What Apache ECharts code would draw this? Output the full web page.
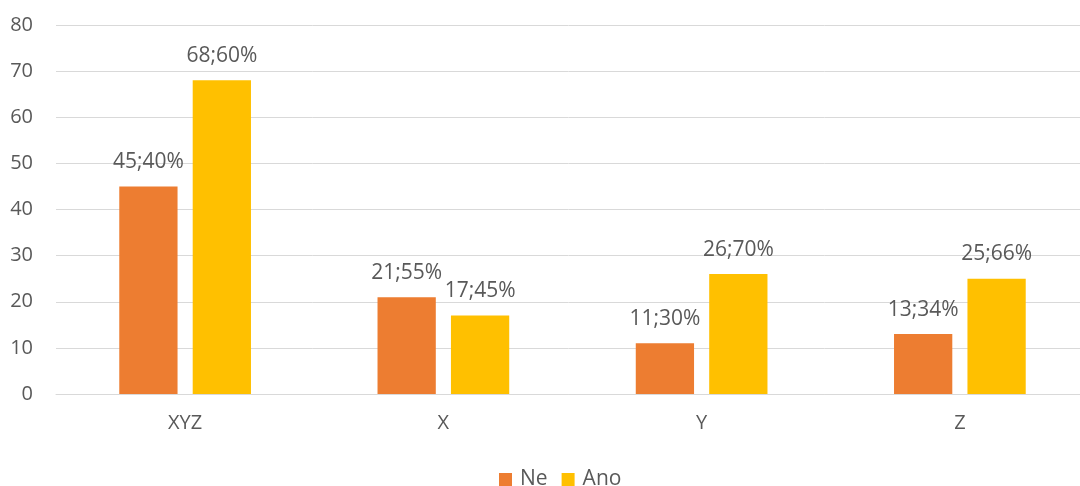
<!DOCTYPE html>
<html>
<head>
<meta charset="utf-8">
<script src="https://cdn.jsdelivr.net/npm/echarts@6/dist/echarts.min.js"></script>
<style>
  html, body { margin: 0; padding: 0; background: #fff; }
  #chart { width: 1080px; height: 486px; }
</style>
</head>
<body>
<div id="chart"></div>
<script>
const categories = ['XYZ', 'X', 'Y', 'Z'];
const neValues = [45, 21, 11, 13];
const anoValues = [68, 17, 26, 25];
const nePercents = ['40%', '55%', '30%', '34%'];
const anoPercents = ['60%', '45%', '70%', '66%'];
const yTicks = { min: 0, max: 80, interval: 10 };

const FONT = '"Open Sans", "Noto Sans", sans-serif';
const TEXT = '#595959';

function labelFor(percents) {
  return {
    show: true,
    position: 'top',
    distance: 14,
    color: TEXT,
    fontFamily: FONT,
    fontSize: 21,
    formatter: p => p.value + ';' + percents[p.dataIndex]
  };
}

const chart = echarts.init(document.getElementById('chart'), null, { renderer: 'canvas' });
chart.setOption({
  animation: false,
  textStyle: { fontFamily: FONT },
  // plot area runs slightly past the right edge of the canvas
  grid: { left: 56, width: 1033, top: 25, bottom: 92, containLabel: false, outerBoundsMode: 'none' },
  legend: {
    left: 494,
    top: 464,
    itemWidth: 13,
    itemHeight: 13,
    itemGap: 14,
    icon: 'rect',
    textStyle: { color: TEXT, fontFamily: FONT, fontSize: 21, padding: [0, 0, 0, 3] },
    data: ['Ne', 'Ano']
  },
  xAxis: {
    type: 'category',
    data: categories,
    axisLine: { lineStyle: { color: '#d9d9d9', width: 1 } },
    axisTick: { show: false },
    axisLabel: { color: TEXT, fontFamily: FONT, fontSize: 20, margin: 19 }
  },
  yAxis: {
    type: 'value',
    min: yTicks.min,
    max: yTicks.max,
    interval: yTicks.interval,
    axisLine: { show: false },
    axisTick: { show: false },
    axisLabel: { color: TEXT, fontFamily: FONT, fontSize: 20, margin: 23 },
    splitLine: { lineStyle: { color: '#d9d9d9', width: 1 } }
  },
  series: [
    {
      name: 'Ne',
      type: 'bar',
      data: neValues,
      itemStyle: { color: '#ED7D31' },
      barGap: '26%',
      barCategoryGap: '49%',
      label: labelFor(nePercents)
    },
    {
      name: 'Ano',
      type: 'bar',
      data: anoValues,
      itemStyle: { color: '#FFC000' },
      barGap: '26%',
      barCategoryGap: '49%',
      label: labelFor(anoPercents)
    }
  ]
});
</script>
</body>
</html>
